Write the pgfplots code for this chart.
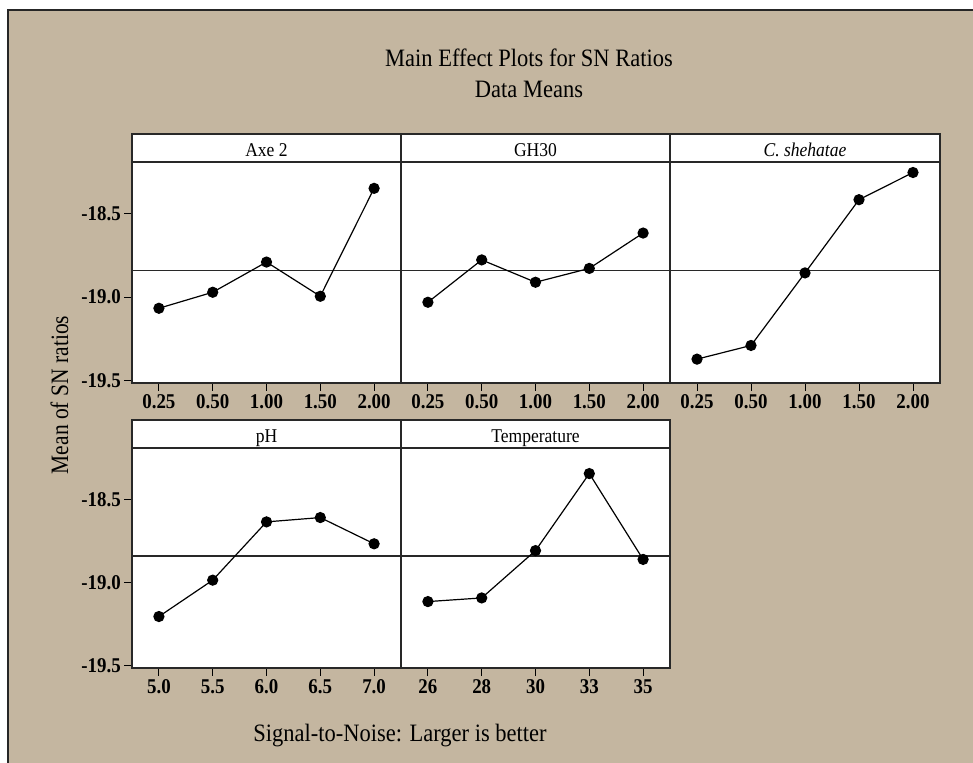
\documentclass[border=0pt]{standalone}
\usepackage{fontspec}
\setmainfont{Liberation Serif}
\usepackage{pgfplots}
\pgfplotsset{compat=1.18}
\definecolor{bgtan}{RGB}{196,182,160}
\definecolor{frm}{RGB}{40,40,40}

\newcommand{\strip}[1]{%
  \draw[frm, line width=1.3pt, fill=white] (rel axis cs:0,1) rectangle (rel axis cs:1,1.127);
  \node[anchor=base, font=\fontsize{19.5}{19.5}\selectfont] at (rel axis cs:0.5,1.027) {\scalebox{0.9}[1]{#1}};
}

\pgfplotsset{
  panel/.style={
    scale only axis, width=269pt, height=221pt,
    xmin=0.5, xmax=5.5, ymin=-19.515, ymax=-18.19,
    axis line style={frm, line width=1.3pt},
    axis background/.style={fill=white},
    tick align=outside, major tick length=8pt,
    tick style={black, line width=1pt},
    xtick={1,2,3,4,5}, xtick pos=left, ytick pos=left,
    ticklabel style={font=\fontsize{21}{21}\selectfont\bfseries, xscale=0.9},
    clip=false,
    ytick={-19.5,-19,-18.5}, yticklabels={-19.5,-19.0,-18.5},
  },
  noy/.style={ytick=\empty},
  refl/.style={frm, line width=1.8pt, no marks},
  dat/.style={black, line width=1.2pt, mark=*, mark size=5pt, mark options={fill=black}},
}

\begin{document}
\begin{tikzpicture}[x=1pt,y=1pt]
\useasboundingbox (0,0) rectangle (973,762);
\fill[white] (0,0) rectangle (973,762);
\fill[bgtan] (8,-5) rectangle (980,752);
\draw[line width=1.5pt, black!85] (8,-5) -- (8,752) -- (980,752);

% titles
\node[anchor=base, font=\fontsize{25}{25}\selectfont] at (529,695) {\scalebox{0.9}[1]{Main Effect Plots for SN Ratios}};
\node[anchor=base, font=\fontsize{25}{25}\selectfont] at (529,664) {\scalebox{0.9}[1]{Data Means}};
\node[anchor=base, rotate=90, font=\fontsize{25}{25}\selectfont] at (68,367) {\scalebox{0.86}[1]{Mean of SN ratios}};
\node[anchor=base, font=\fontsize{25}{25}\selectfont] at (400,20) {\scalebox{0.9}[1]{Signal-to-Noise: Larger is better}};

% Top row
\begin{axis}[panel, at={(132pt,379pt)}, anchor=south west,
  xticklabels={0.25,0.50,1.00,1.50,2.00}]
  \addplot[refl] coordinates {(0.5,-18.84) (5.5,-18.84)};
  \addplot[dat] coordinates {(1,-19.067) (2,-18.971) (3,-18.790) (4,-18.995) (5,-18.348)};
  \strip{Axe 2}
\end{axis}
\begin{axis}[panel, noy, at={(401pt,379pt)}, anchor=south west,
  xticklabels={0.25,0.50,1.00,1.50,2.00}]
  \addplot[refl] coordinates {(0.5,-18.84) (5.5,-18.84)};
  \addplot[dat] coordinates {(1,-19.031) (2,-18.777) (3,-18.911) (4,-18.828) (5,-18.616)};
  \strip{GH30}
\end{axis}
\begin{axis}[panel, noy, at={(670pt,379pt)}, anchor=south west, width=270pt,
  xticklabels={0.25,0.50,1.00,1.50,2.00}]
  \addplot[refl] coordinates {(0.5,-18.84) (5.5,-18.84)};
  \addplot[dat] coordinates {(1,-19.372) (2,-19.290) (3,-18.855) (4,-18.416) (5,-18.253)};
  \strip{\itshape C. shehatae}
\end{axis}

% Bottom row
\begin{axis}[panel, at={(132pt,94pt)}, anchor=south west, height=220pt,
  xticklabels={5.0,5.5,6.0,6.5,7.0}]
  \addplot[refl] coordinates {(0.5,-18.84) (5.5,-18.84)};
  \addplot[dat] coordinates {(1,-19.205) (2,-18.986) (3,-18.635) (4,-18.609) (5,-18.767)};
  \strip{pH}
\end{axis}
\begin{axis}[panel, noy, at={(401pt,94pt)}, anchor=south west, height=220pt,
  xticklabels={26,28,30,33,35}]
  \addplot[refl] coordinates {(0.5,-18.84) (5.5,-18.84)};
  \addplot[dat] coordinates {(1,-19.115) (2,-19.093) (3,-18.808) (4,-18.344) (5,-18.861)};
  \strip{Temperature}
\end{axis}
\end{tikzpicture}
\end{document}
